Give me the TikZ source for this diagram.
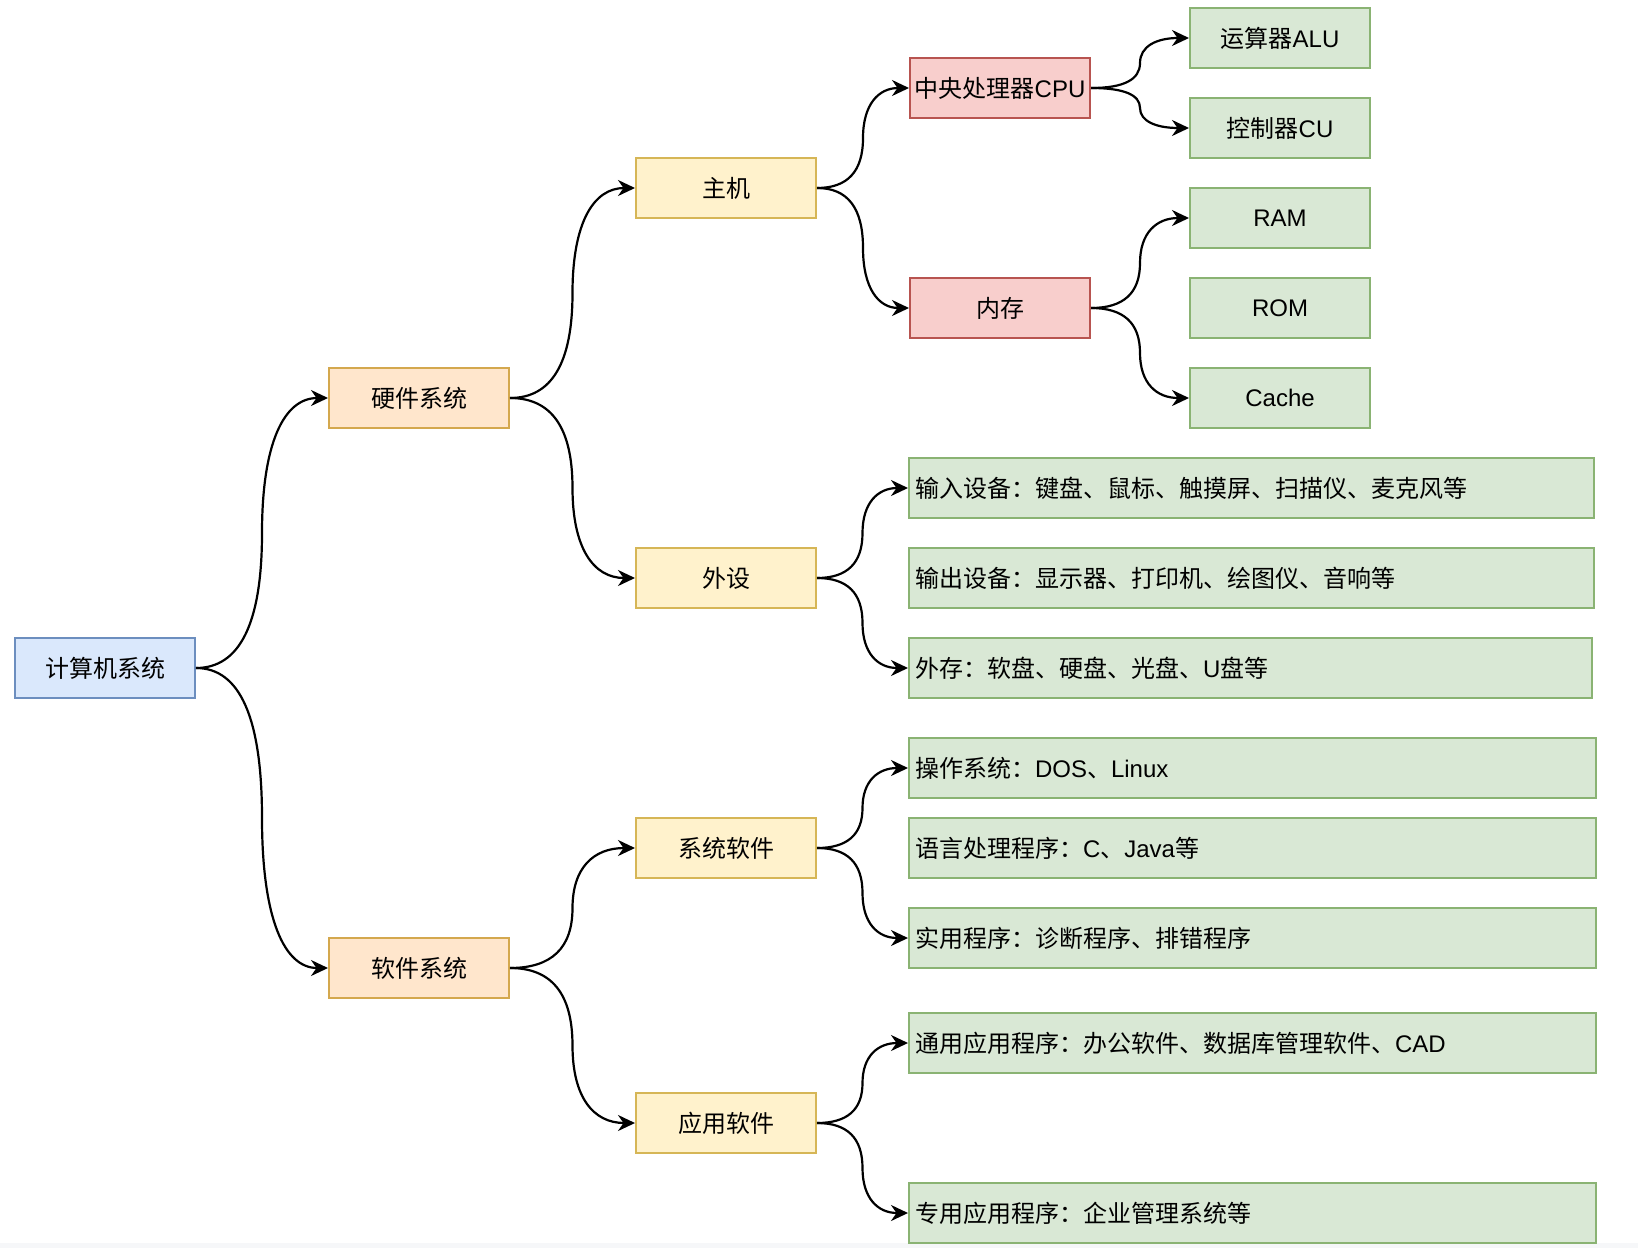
\documentclass[tikz,border=0pt]{standalone}
\usepackage{fontspec}
\setmainfont{Noto Sans CJK SC}
\newfontfamily\lat{Liberation Sans}
\usetikzlibrary{arrows.meta,calc}
\definecolor{bluefill}{HTML}{DAE8FC}
\definecolor{bluestroke}{HTML}{6C8EBF}
\definecolor{orangefill}{HTML}{FFE6CC}
\definecolor{orangestroke}{HTML}{D4A84E}
\definecolor{yellowfill}{HTML}{FFF2CC}
\definecolor{yellowstroke}{HTML}{D6B656}
\definecolor{redfill}{HTML}{F8CECC}
\definecolor{redstroke}{HTML}{B85450}
\definecolor{greenfill}{HTML}{D9E8D5}
\definecolor{greenstroke}{HTML}{8AB373}
\definecolor{stripgray}{HTML}{F6F7F9}
\tikzset{
  box/.style={draw, line width=2pt, minimum width=180pt, minimum height=60pt,
    anchor=north west, inner sep=0pt, font=\fontsize{24}{28}\selectfont},
  bluebox/.style={box, fill=bluefill, draw=bluestroke},
  orangebox/.style={box, fill=orangefill, draw=orangestroke},
  yellowbox/.style={box, fill=yellowfill, draw=yellowstroke},
  redbox/.style={box, fill=redfill, draw=redstroke},
  greenbox/.style={box, fill=greenfill, draw=greenstroke},
  widebox/.style={greenbox, inner xsep=6pt, align=left, text width=#1},
  widebox/.default=675pt,
  conn/.style={draw=black, line width=2.2pt, -{Stealth[length=17pt,width=16pt,inset=5.5pt]}},
}
\newcommand\curvelink[2]{%
  \path let \p1=(#1.east), \p2=(#2.west) in
    (\p1) coordinate (cl-s)
    ({(\x1+\x2)/2},\y1) coordinate (cl-qa)
    ({(\x1+\x2)/2},{(\y1+\y2)/2}) coordinate (cl-m)
    ({(\x1+\x2)/2},\y2) coordinate (cl-qb)
    (\p2) coordinate (cl-t);
  \draw[conn] (cl-s) .. controls ($(cl-s)!2/3!(cl-qa)$) and ($(cl-m)!2/3!(cl-qa)$) .. (cl-m)
     .. controls ($(cl-m)!2/3!(cl-qb)$) and ($(cl-t)!2/3!(cl-qb)$) .. (cl-t);
}
\begin{document}
\begin{tikzpicture}[x=1pt,y=-1pt]
\fill[white] (0,0) rectangle (1638,1243);
\fill[stripgray] (0,1243) rectangle (1638,1248);
\useasboundingbox (0,0) rectangle (1638,1248);

\node[bluebox] (root) at (14,637) {计算机系统};
\node[orangebox] (hw) at (328,367) {硬件系统};
\node[orangebox] (sw) at (328,937) {软件系统};
\node[yellowbox] (host) at (635,157) {主机};
\node[yellowbox] (peri) at (635,547) {外设};
\node[yellowbox] (syssw) at (635,817) {系统软件};
\node[yellowbox] (appsw) at (635,1092) {应用软件};
\node[redbox] (cpu) at (909,57) {中央处理器{\lat CPU}};
\node[redbox] (mem) at (909,277) {内存};
\node[greenbox] (alu) at (1189,7) {运算器{\lat ALU}};
\node[greenbox] (cu) at (1189,97) {控制器{\lat CU}};
\node[greenbox] (ram) at (1189,187) {\lat RAM};
\node[greenbox] (rom) at (1189,277) {\lat ROM};
\node[greenbox] (cache) at (1189,367) {\lat Cache};
\node[widebox=673pt] (in) at (908,457) {输入设备：键盘、鼠标、触摸屏、扫描仪、麦克风等};
\node[widebox=673pt] (out) at (908,547) {输出设备：显示器、打印机、绘图仪、音响等};
\node[widebox=671pt] (ext) at (908,637) {外存：软盘、硬盘、光盘、{\lat U}盘等};
\node[widebox] (os) at (908,737) {操作系统：{\lat DOS}、{\lat Linux}};
\node[widebox] (lang) at (908,817) {语言处理程序：{\lat C}、{\lat Java}等};
\node[widebox] (util) at (908,907) {实用程序：诊断程序、排错程序};
\node[widebox] (gen) at (908,1012) {通用应用程序：办公软件、数据库管理软件、{\lat CAD}};
\node[widebox] (spec) at (908,1182) {专用应用程序：企业管理系统等};

\curvelink{root}{hw}
\curvelink{root}{sw}
\curvelink{hw}{host}
\curvelink{hw}{peri}
\curvelink{host}{cpu}
\curvelink{host}{mem}
\curvelink{cpu}{alu}
\curvelink{cpu}{cu}
\curvelink{mem}{ram}
\curvelink{mem}{cache}
\curvelink{peri}{in}
\curvelink{peri}{ext}
\curvelink{sw}{syssw}
\curvelink{sw}{appsw}
\curvelink{syssw}{os}
\curvelink{syssw}{util}
\curvelink{appsw}{gen}
\curvelink{appsw}{spec}
\end{tikzpicture}
\end{document}
